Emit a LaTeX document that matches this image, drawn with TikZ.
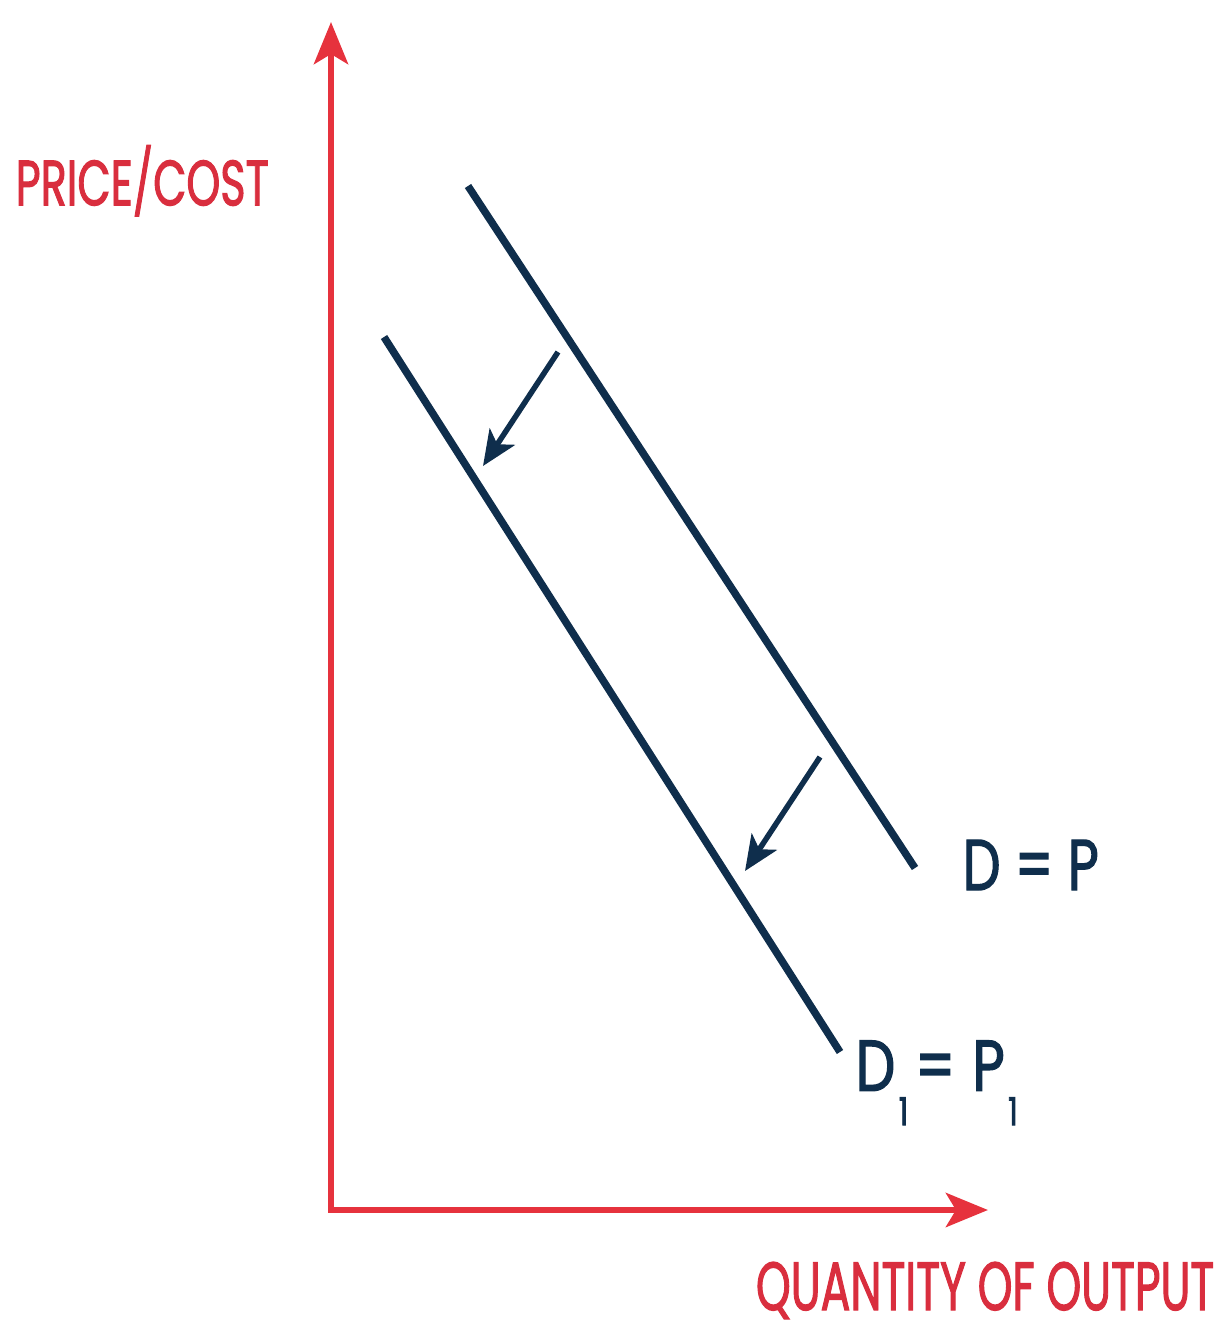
\documentclass[tikz,border=0pt]{standalone}
\usepackage{fontspec}
\setmainfont{Poppins}[FakeBold=2]
\usetikzlibrary{arrows.meta}
\definecolor{axred}{HTML}{E6323D}
\definecolor{txtred}{HTML}{D92E3E}
\definecolor{navy}{HTML}{0F2E4C}
\newcommand{\subone}{\raisebox{-4.8pt}{\fontsize{5.4}{6}\selectfont 1}}
\tikzset{
  axis/.style={draw=axred,line width=0.065cm,line join=miter,
    arrows={Stealth[length=0.42cm,width=0.34cm,inset=0.1cm]-Stealth[length=0.42cm,width=0.34cm,inset=0.1cm]}},
  curve/.style={draw=navy,line width=0.075cm},
  shiftarrow/.style={draw=navy,line width=0.055cm,-{Stealth[length=0.35cm,width=0.3cm,inset=0.09cm]}},
  axlabel/.style={text=txtred,inner sep=0pt},
  dlabel/.style={text=navy,inner sep=0pt},
}
\begin{document}
\begin{tikzpicture}[x=0.01cm,y=-0.01cm]
\useasboundingbox (0,0) rectangle (1222,1324);
\coordinate (O) at (331,1210);
\coordinate (ytip) at (331,22);
\coordinate (xtip) at (988,1210);
\draw[axis] (ytip) -- (O) -- (xtip);
\coordinate (d0) at (468,186);
\coordinate (d1) at (915,868);
\coordinate (e0) at (384,337);
\coordinate (e1) at (840,1052);
\draw[curve] (d0) -- (d1);
\draw[curve] (e0) -- (e1);
\coordinate (a0) at (558,352);
\coordinate (a1) at (483,466);
\coordinate (b0) at (820,757);
\coordinate (b1) at (745,871);
\draw[shiftarrow] (a0) -- (a1);
\draw[shiftarrow] (b0) -- (b1);
\node[axlabel,anchor=west] (py) at (15,183) {\resizebox{2.53cm}{0.45cm}{PRICE\raisebox{0pt}[0pt][0pt]{/}COST}};
\node[axlabel,anchor=east] (qx) at (1215,1286) {\resizebox{4.58cm}{0.48cm}{\raisebox{0pt}[\height][0pt]{QUANTITY OF OUTPUT}}};
\node[dlabel,anchor=west] (dp) at (962,865) {\resizebox{1.36cm}{0.5cm}{D = P}};
\node[dlabel,anchor=north west] (dp1) at (855,1040) {\resizebox{1.62cm}{0.5cm}{D\hspace{0.6pt}\subone\hspace{1.2pt}=\hspace{3pt}P\hspace{0.6pt}\subone}};
\end{tikzpicture}
\end{document}
